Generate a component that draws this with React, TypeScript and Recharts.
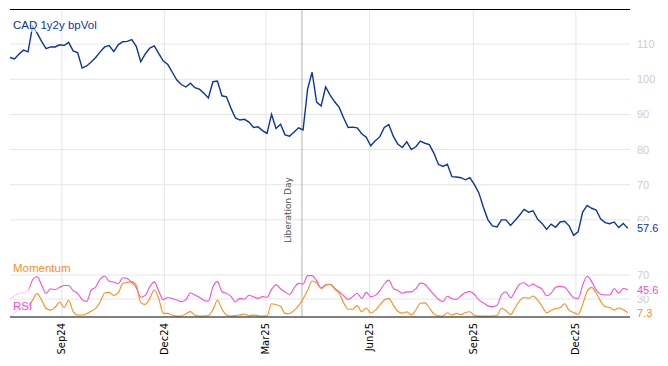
import React from 'react';
import { LineChart, Line, XAxis, YAxis, ReferenceLine } from 'recharts';

// CAD 1y2y bp vol, one point every 4 days from 17 Jul 2024
const VOL = [
  106.2, 105.8, 107.2, 108.3, 107.8, 115.0, 113.2, 110.8, 108.7, 109.2,
  109.2, 109.8, 109.6, 110.5, 108.1, 107.6, 103.2, 103.8, 104.9, 106.2,
  107.8, 109.2, 109.6, 107.9, 109.8, 110.7, 110.8, 111.3, 109.4, 105.0,
  107.2, 108.9, 109.5, 107.3, 105.2, 104.2, 102.0, 99.8, 98.5, 97.8,
  98.9, 97.6, 97.2, 96.0, 94.7, 99.3, 99.5, 95.3, 95.0, 91.8,
  89.0, 88.4, 88.6, 87.8, 86.3, 86.5, 85.4, 84.6, 90.0, 86.0,
  87.2, 84.2, 83.8, 85.0, 86.2, 85.6, 97.2, 102.0, 93.5, 92.4,
  97.8, 95.5, 93.6, 92.0, 89.0, 86.3, 86.4, 86.2, 84.5, 83.5,
  81.1, 82.5, 83.6, 86.3, 87.1, 83.8, 81.6, 80.6, 82.2, 80.0,
  80.8, 82.4, 81.8, 81.4, 79.0, 75.8, 75.2, 75.8, 72.3, 72.2,
  72.0, 71.4, 72.0, 70.0, 67.6, 63.5, 60.0, 58.3, 58.0, 60.0,
  60.0, 58.4, 59.8, 61.3, 63.0, 62.2, 62.6, 60.2, 59.0, 57.3,
  58.8, 57.9, 59.4, 59.6, 58.3, 55.6, 56.6, 62.2, 64.1, 63.3,
  62.8, 60.2, 59.2, 58.9, 59.4, 57.8, 59.0, 57.6,
];

const MOM = [
  30, 35, 39.6, 40.5, 44, 62, 67.5, 53.3, 39.4, 47,
  45.5, 49.5, 52.5, 52.5, 44, 39.4, 29, 26, 44.8, 50,
  63, 68.2, 59.5, 58.3, 55.5, 65.5, 64, 57.5, 49, 33,
  36, 50.3, 58.5, 43, 29, 32.4, 30.7, 28.2, 25.7, 29,
  40, 36.7, 32.8, 28, 26.5, 50.5, 59, 42.5, 39.4, 34.5,
  25, 31, 29.5, 36.3, 33.7, 31.2, 33.9, 33, 46, 53.5,
  47, 41.7, 37.5, 48.5, 56, 55, 69, 69, 60.5, 48.5,
  53.5, 54.6, 48.2, 42.2, 35.3, 29.4, 34, 39.5, 31, 41,
  33.9, 36, 43.6, 55, 61.5, 47.8, 44.2, 39.7, 41.8, 41.8,
  47, 56.5, 54.5, 46, 37.8, 29.5, 25.6, 34.5, 30.5, 29.4,
  35.5, 40.8, 42.2, 37.5, 28.5, 23.6, 18.5, 17.3, 19.5, 37,
  42, 32, 42.5, 54.5, 57, 51.5, 54.8, 50.5, 46.5, 35.5,
  39.5, 49.5, 51, 49.5, 41, 32, 31.1, 53, 68, 59,
  45, 38, 36.7, 36.7, 47.5, 39.5, 47.5, 45.6,
];

const RSI = [
  0.5, 6, 13, 17.2, 19, 28, 39, 28.5, 14.5, 11.5,
  16, 25, 15.5, 28, 9, 3.3, 3.3, 5.5, 10, 14.5,
  25.5, 40, 41, 36, 40, 56, 57.5, 59, 53, 24,
  21, 31, 45, 30, 6.1, 6, 3, 1.7, 1.7, 5.5,
  8.9, 3, 1.7, 1.7, 2.5, 12, 28, 13, 3.5, 1.7,
  2.3, 3.5, 4.6, 2.2, 3.2, 2.2, 1.7, 1.7, 22, 20.5,
  17.8, 6, 5.5, 11, 19, 30.5, 44.5, 60, 57, 47.5,
  53, 54.6, 46.5, 39.4, 23.5, 12.8, 12.8, 19, 8.7, 15,
  6.6, 11, 20, 28.3, 31, 19.8, 9.5, 6.5, 8.6, 3.6,
  11.6, 23, 23.5, 15, 5.3, 2.2, 1.7, 7, 3.3, 6,
  3.7, 7.5, 8.8, 2.8, 1.7, 1.7, 1.7, 1.7, 2.5, 14.5,
  10.5, 4.3, 15.5, 27, 32.5, 31.4, 35, 28, 18, 7,
  11, 14, 15.5, 22, 11, 7.6, 4.5, 21, 43, 49.3,
  40, 26, 17.5, 16, 11.5, 15, 12, 7.3,
];

const DAY = 86400000;
const START = Date.UTC(2024, 6, 17);
const STEP_DAYS = 4;
const SPAN_DAYS = 550;

const MONTH_TICKS = ['2024-09-01', '2024-12-01', '2025-03-01', '2025-06-01', '2025-09-01', '2025-12-01'].map((d) => Date.parse(d));
const MONTH_LABELS = ['Sep24', 'Dec24', 'Mar25', 'Jun25', 'Sep25', 'Dec25'];
const VOL_TICKS = [60, 70, 80, 90, 100, 110];
const OSC_TICKS = [30, 70];
const EVENT_DATE = Date.parse('2025-04-02');
const EVENT_LABEL = 'Liberation Day';

const BLUE = '#0b35a0';
const PINK = '#f24fd6';
const ORANGE = '#f7901e';
const GRID = '#e6e6e6';
const TICK_GREY = '#cdcdcd';
const FONT = '"Liberation Sans", Arial, sans-serif';

const data = VOL.map((v, i) => ({ t: START + i * STEP_DAYS * DAY, vol: v, mom: MOM[i], rsi: RSI[i] }));
const X_DOMAIN = [START, START + SPAN_DAYS * DAY];

const InnerTick = ({ x, y }: any) => <line x1={x} x2={x} y1={y - 5} y2={y} stroke="#000" strokeWidth={1} />;

const MonthTick = ({ x, y, payload }: any) => {
  const label = MONTH_LABELS[MONTH_TICKS.indexOf(payload.value)];
  return (
    <text
      transform={`translate(${x + 3.5},${y + 6}) rotate(-90)`}
      textAnchor="end"
      fontSize={10}
      fontFamily='"DejaVu Sans", sans-serif'
      fill="#000"
    >
      {label}
    </text>
  );
};

// right-hand axis label, optionally with a white box behind (last values)
const sideLabel = (value: number, color: string, boxed: boolean) => ({ viewBox }: any) => (
  <g>
    {boxed && <rect x={viewBox.x + viewBox.width + 4} y={viewBox.y - 7} width={28} height={13} fill="#fff" />}
    <text x={viewBox.x + viewBox.width + 7} y={viewBox.y + 4} fill={color} fontSize={11} fontFamily={FONT}>
      {value}
    </text>
  </g>
);

const eventLabel = ({ viewBox }: any) => (
  <text
    transform={`translate(${viewBox.x - 10.5},${viewBox.y + viewBox.height - 12}) rotate(-90)`}
    fontSize={9}
    fontFamily='"DejaVu Sans", sans-serif'
    fill="#555"
  >
    {EVENT_LABEL}
  </text>
);

export default function App() {
  return (
    <div style={{ position: 'absolute', left: 0, top: 0, width: 668, height: 366, background: '#fff', overflow: 'hidden' }}>
      <div style={{ position: 'absolute', left: 0, top: 0 }}>
        <LineChart width={668} height={256} data={data} margin={{ top: 9, right: 38, left: 10, bottom: 1 }}>
          {VOL_TICKS.map((v) => (
            <ReferenceLine key={v} y={v} stroke={GRID} label={sideLabel(v, TICK_GREY, false)} />
          ))}
          {MONTH_TICKS.map((t) => (
            <ReferenceLine key={t} x={t} stroke={GRID} />
          ))}
          <XAxis
            dataKey="t"
            type="number"
            scale="time"
            domain={X_DOMAIN}
            ticks={MONTH_TICKS}
            height={0}
            tickSize={0}
            tickMargin={0}
            tickLine={false}
            axisLine={{ stroke: '#000' }}
            tick={InnerTick}
            interval={0}
          />
          <YAxis hide domain={[50, 120]} />
          <ReferenceLine x={EVENT_DATE} stroke="#b4b4b4" label={eventLabel} />
          <Line type="linear" dataKey="vol" stroke={BLUE} strokeWidth={1.4} dot={false} isAnimationActive={false} />
          <ReferenceLine y={VOL[VOL.length - 1]} stroke="none" label={sideLabel(VOL[VOL.length - 1], BLUE, true)} />
        </LineChart>
      </div>
      <div style={{ position: 'absolute', left: 0, top: 255 }}>
        <LineChart width={668} height={111} data={data} margin={{ top: 0, right: 38, left: 10, bottom: 0 }}>
          <defs>
            <linearGradient id="pinkFade" x1="0" y1="0" x2="1" y2="0">
              <stop offset="0" stopColor={PINK} stopOpacity={0.25} />
              <stop offset="0.028" stopColor={PINK} stopOpacity={0.3} />
              <stop offset="0.034" stopColor={PINK} stopOpacity={1} />
            </linearGradient>
            <linearGradient id="orangeFade" x1="0" y1="0" x2="1" y2="0">
              <stop offset="0" stopColor={ORANGE} stopOpacity={0.25} />
              <stop offset="0.028" stopColor={ORANGE} stopOpacity={0.3} />
              <stop offset="0.034" stopColor={ORANGE} stopOpacity={1} />
            </linearGradient>
          </defs>
          {OSC_TICKS.map((v) => (
            <ReferenceLine key={v} y={v} stroke={GRID} label={sideLabel(v, TICK_GREY, false)} />
          ))}
          {MONTH_TICKS.map((t) => (
            <ReferenceLine key={t} x={t} stroke={GRID} />
          ))}
          <XAxis
            dataKey="t"
            type="number"
            scale="time"
            domain={X_DOMAIN}
            ticks={MONTH_TICKS}
            height={49}
            tickSize={0}
            tickMargin={0}
            tickLine={false}
            axisLine={{ stroke: '#000' }}
            tick={MonthTick}
            interval={0}
          />
          <YAxis hide domain={[0, 103.3]} />
          <ReferenceLine x={EVENT_DATE} stroke="#b4b4b4" />
          <Line type="monotone" dataKey="mom" stroke="url(#pinkFade)" strokeWidth={1.1} dot={false} isAnimationActive={false} />
          <Line type="monotone" dataKey="rsi" stroke="url(#orangeFade)" strokeWidth={1.1} dot={false} isAnimationActive={false} />
          <ReferenceLine y={MOM[MOM.length - 1]} stroke="none" label={sideLabel(MOM[MOM.length - 1], PINK, true)} />
          <ReferenceLine y={RSI[RSI.length - 1]} stroke="none" label={sideLabel(RSI[RSI.length - 1], ORANGE, true)} />
        </LineChart>
      </div>
      <div style={{ position: 'absolute', left: 10, top: 9, width: 620, height: 1, background: '#000', zIndex: 5 }} />
      <div style={{ position: 'absolute', left: 13, top: 18, fontSize: 11.5, lineHeight: '14px', fontFamily: FONT, color: BLUE, background: 'rgba(255,255,255,0.6)' }}>
        CAD 1y2y bpVol
      </div>
      <div style={{ position: 'absolute', left: 13, top: 261, fontSize: 11.5, lineHeight: '14px', fontFamily: FONT, color: ORANGE }}>
        Momentum
      </div>
      <div style={{ position: 'absolute', left: 13, top: 299, fontSize: 11.5, lineHeight: '14px', fontFamily: FONT, color: PINK }}>
        RSI
      </div>
    </div>
  );
}
